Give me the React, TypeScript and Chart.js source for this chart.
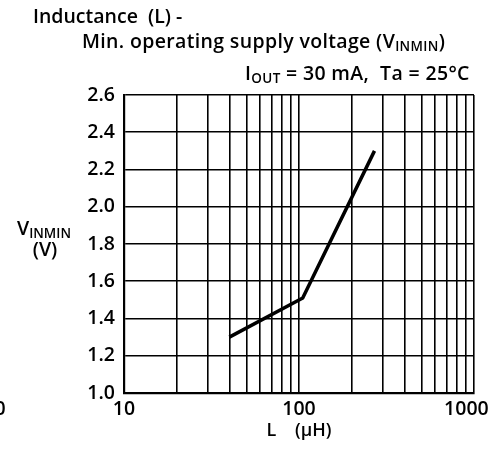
import React, { useEffect, useRef } from "react";
import { Chart, registerables } from "chart.js";

Chart.register(...registerables);

// ---- data ----
const inductanceUH = [40, 105, 270];
const vinMinV = [1.3, 1.51, 2.3];
const xTickValues = [10, 20, 30, 40, 50, 60, 70, 80, 90, 100, 200, 300, 400, 500, 600, 700, 800, 900, 1000];
const xLabelValues = [10, 100, 1000];
const xTickLabels = ["10", "100", "1000   "];
const yMin = 1.0;
const yMax = 2.6;
const yStep = 0.2;

const FONT = '"Open Sans", "Noto Sans", sans-serif';
const WEIGHT = 600;
const SIZE = 19.5;
const TICK_SIZE = 19.5;
const SUB = 13.5;

type Part = [string, boolean];

function drawParts(
  ctx: CanvasRenderingContext2D,
  x: number,
  y: number,
  parts: Part[],
  align: "left" | "center" = "left",
  spacing = 0
) {
  ctx.save();
  ctx.fillStyle = "#000";
  ctx.textBaseline = "middle";
  ctx.textAlign = "left";
  (ctx as any).letterSpacing = `${spacing}px`;
  let total = 0;
  for (const [t, sub] of parts) {
    ctx.font = `${WEIGHT} ${sub ? SUB : SIZE}px ${FONT}`;
    total += ctx.measureText(t).width;
  }
  let cx = align === "center" ? x - total / 2 : x;
  for (const [t, sub] of parts) {
    ctx.font = `${WEIGHT} ${sub ? SUB : SIZE}px ${FONT}`;
    ctx.fillText(t, cx, sub ? y + 5 : y);
    cx += ctx.measureText(t).width;
  }
  ctx.restore();
}

const textPlugin = {
  id: "texts",
  afterDraw(chart: any) {
    const ctx = chart.ctx as CanvasRenderingContext2D;
    drawParts(ctx, 33, 17, [["Inductance  (L) -", false]]);
    drawParts(ctx, 82, 42, [["Min. operating supply voltage (V", false], ["INMIN", true], [")", false]], "left", 0.35);
    drawParts(ctx, 245, 74, [["I", false], ["OUT", true], [" = 30 mA,  Ta = 25°C", false]], "left", 0.35);
    drawParts(ctx, 44, 229, [["V", false], ["INMIN", true]], "center");
    drawParts(ctx, 45, 250, [["(V)", false]], "center");
    drawParts(ctx, 0, 409, [["0", false]], "center");
  },
};

export default function App() {
  const ref = useRef<HTMLCanvasElement | null>(null);
  useEffect(() => {
    if (!ref.current) return;
    const chart = new Chart(ref.current, {
      type: "line",
      data: {
        datasets: [
          {
            data: inductanceUH.map((x, i) => ({ x, y: vinMinV[i] })),
            borderColor: "#000",
            borderWidth: 3.5,
            pointRadius: 0,
            tension: 0,
            fill: false,
          },
        ],
      },
      options: {
        animation: false,
        responsive: false,
        layout: { padding: { top: 95, right: 22, left: 0, bottom: 0 } },
        plugins: { legend: { display: false }, tooltip: { enabled: false }, title: { display: false } },
        scales: {
          x: {
            type: "logarithmic",
            min: 10,
            max: 1000,
            afterBuildTicks: (scale: any) => {
              scale.ticks = xTickValues.map((v) => ({ value: v, major: xLabelValues.includes(v) }));
            },
            afterFit: (scale: any) => {
              scale.height = 56;
              scale.paddingLeft = 0;
              scale.paddingRight = 0;
            },
            grid: { color: "#000", lineWidth: 1.6, drawTicks: false },
            border: { display: true, color: "#000", width: 2.2 },
            ticks: {
              autoSkip: false,
              maxRotation: 0,
              minRotation: 0,
              padding: 5,
              color: "#000",
              font: { family: FONT, size: TICK_SIZE, weight: WEIGHT as any },
              callback: (value: any) => {
                const i = xLabelValues.indexOf(Number(value));
                return i >= 0 ? xTickLabels[i] : "";
              },
            },
            title: {
              display: true,
              text: "L    (μH)",
              color: "#000",
              font: { family: FONT, size: 18, weight: WEIGHT as any },
              padding: { top: 0, bottom: 7 },
            },
          },
          y: {
            type: "linear",
            min: yMin,
            max: yMax,
            afterFit: (scale: any) => {
              scale.width = 124;
              scale.paddingTop = 0;
              scale.paddingBottom = 0;
            },
            grid: { color: "#000", lineWidth: 1.6, drawTicks: false },
            border: { display: true, color: "#000", width: 2.2 },
            ticks: {
              stepSize: yStep,
              padding: 9,
              color: "#000",
              font: { family: FONT, size: TICK_SIZE, weight: WEIGHT as any },
              callback: (value: any) => Number(value).toFixed(1),
            },
          },
        },
      },
      plugins: [textPlugin],
    });
    return () => chart.destroy();
  }, []);
  return (
    <div style={{ position: "absolute", left: 0, top: 0, width: 496, height: 449, background: "#fff" }}>
      <canvas ref={ref} width={496} height={449} style={{ display: "block", width: 496, height: 449 }} />
    </div>
  );
}
